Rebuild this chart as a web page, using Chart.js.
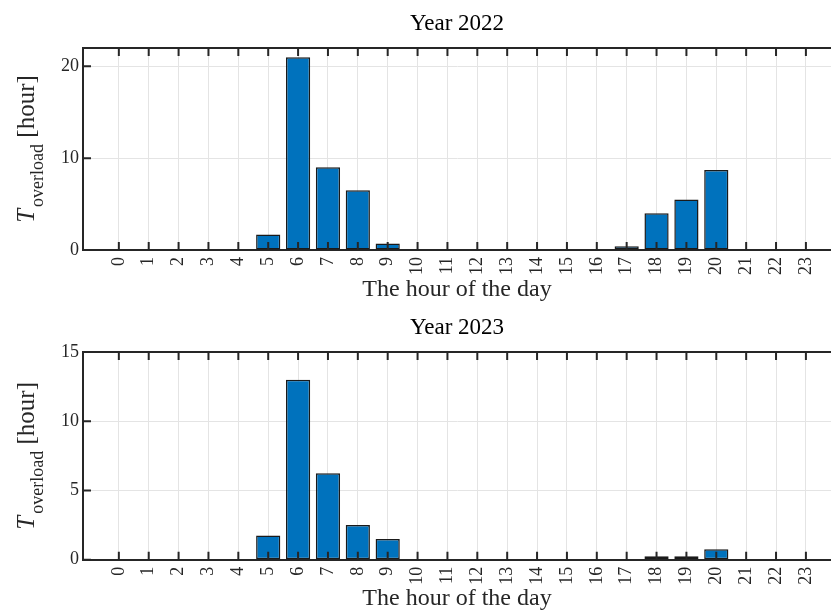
<!DOCTYPE html>
<html>
<head>
<meta charset="utf-8">
<title>Overload hours</title>
<script src="https://cdn.jsdelivr.net/npm/chart.js@4.4.0/dist/chart.umd.min.js"></script>
<style>
  body { margin: 0; background: #fff; }
  .panel { width: 831px; height: 306px; position: relative; }
</style>
</head>
<body>
<div class="panel"><canvas id="chart2022"></canvas></div>
<div class="panel"><canvas id="chart2023"></canvas></div>
<script>
// Data
const hours = [0, 1, 2, 3, 4, 5, 6, 7, 8, 9, 10, 11, 12, 13, 14, 15, 16, 17, 18, 19, 20, 21, 22, 23];
const overload2022 = [0, 0, 0, 0, 0, 1.7, 21, 9, 6.5, 0.7, 0, 0, 0, 0, 0, 0, 0, 0.4, 4, 5.5, 8.7, 0, 0, 0];
const overload2023 = [0, 0, 0, 0, 0, 1.75, 13, 6.25, 2.5, 1.5, 0, 0, 0, 0, 0, 0, 0, 0, 0.25, 0.25, 0.75, 0, 0, 0];
const yTicks2022 = [0, 10, 20];
const yTicks2023 = [0, 5, 10, 15];

const SERIF = "'Liberation Serif', 'Times New Roman', serif";
const AXIS_COLOR = "#262626";
const GRID_COLOR = "#e4e4e4";

// MATLAB style box: top edge + inward ticks, and the y label with subscript
const matlabAxes = {
    id: "matlabAxes",
    afterDatasetsDraw(chart) {
        const { ctx, chartArea: a, scales: { x, y } } = chart;
        ctx.save();
        ctx.strokeStyle = AXIS_COLOR;
        ctx.lineWidth = 2;
        ctx.beginPath();
        ctx.moveTo(a.left, a.top);
        ctx.lineTo(a.right, a.top);
        x.ticks.forEach(t => {
            const px = x.getPixelForValue(t.value);
            ctx.moveTo(px, a.bottom);
            ctx.lineTo(px, a.bottom - 8);
            ctx.moveTo(px, a.top);
            ctx.lineTo(px, a.top + 8);
        });
        y.ticks.forEach(t => {
            const py = y.getPixelForValue(t.value);
            ctx.moveTo(a.left, py);
            ctx.lineTo(a.left + 8, py);
        });
        ctx.stroke();
        ctx.restore();
    },
    afterDraw(chart) {
        const { ctx, chartArea: a } = chart;
        const mainFont = `25px ${SERIF}`;
        const italicFont = `italic 25px ${SERIF}`;
        const subFont = `18px ${SERIF}`;
        ctx.save();
        ctx.fillStyle = AXIS_COLOR;
        ctx.textBaseline = "alphabetic";
        ctx.font = italicFont;
        const wT = ctx.measureText("T").width;
        ctx.font = subFont;
        const wSub = ctx.measureText("overload").width;
        ctx.font = mainFont;
        const wRest = ctx.measureText(" [hour]").width;
        const total = wT + 2 + wSub + wRest;
        ctx.translate(34, (a.top + a.bottom) / 2);
        ctx.rotate(-Math.PI / 2);
        let cx = -total / 2;
        ctx.font = italicFont;
        ctx.fillText("T", cx, 0);
        cx += wT + 2;
        ctx.font = subFont;
        ctx.fillText("overload", cx, 9);
        cx += wSub;
        ctx.font = mainFont;
        ctx.fillText(" [hour]", cx, 0);
        ctx.restore();
    }
};

function makeChart(id, title, values, yMax, yTicks, geo) {
    const ctx = document.getElementById(id).getContext("2d");
    return new Chart(ctx, {
        type: "bar",
        data: {
            datasets: [
                {
                    data: hours.map((h, i) => ({ x: h, y: values[i] })),
                    backgroundColor: "#0072bd",
                    borderColor: "#1a1a1a",
                    borderWidth: 1.5,
                    borderSkipped: false,
                    barPercentage: 0.81,
                    categoryPercentage: 1
                }
            ]
        },
        options: {
            responsive: true,
            maintainAspectRatio: false,
            animation: false,
            layout: { padding: 0 },
            plugins: {
                legend: { display: false },
                tooltip: { enabled: false },
                title: {
                    display: true,
                    text: title,
                    fullSize: false,
                    color: "#000",
                    font: { family: SERIF, size: 23, weight: "normal" },
                    padding: { top: geo.titleTop, bottom: geo.titleBottom }
                }
            },
            scales: {
                x: {
                    type: "linear",
                    offset: false,
                    min: -1.2,
                    max: 23.84,
                    afterBuildTicks: s => { s.ticks = hours.map(v => ({ value: v })); },
                    afterFit: s => {
                        s.height = geo.axisHeight;
                        s.paddingLeft = 0;
                        s.paddingRight = 0;
                    },
                    ticks: {
                        autoSkip: false,
                        minRotation: 90,
                        maxRotation: 90,
                        padding: 7,
                        color: AXIS_COLOR,
                        font: { family: SERIF, size: 18 }
                    },
                    grid: { color: GRID_COLOR, drawTicks: false, offset: false },
                    border: { color: AXIS_COLOR, width: 2 },
                    title: {
                        display: true,
                        text: "The hour of the day",
                        color: AXIS_COLOR,
                        font: { family: SERIF, size: 24, lineHeight: 1 },
                        padding: { top: 0, bottom: geo.xTitleBottom }
                    }
                },
                y: {
                    min: 0,
                    max: yMax,
                    afterBuildTicks: s => { s.ticks = yTicks.map(v => ({ value: v })); },
                    afterFit: s => { s.width = 83; },
                    ticks: {
                        padding: 4,
                        color: AXIS_COLOR,
                        font: { family: SERIF, size: 18 }
                    },
                    grid: { color: GRID_COLOR, drawTicks: false },
                    border: { color: AXIS_COLOR, width: 2 }
                }
            }
        },
        plugins: [matlabAxes]
    });
}

makeChart("chart2022", "Year 2022", overload2022, 22, yTicks2022,
    { titleTop: 9.7, titleBottom: 10.7, axisHeight: 56, xTitleBottom: 4 });

makeChart("chart2023", "Year 2023", overload2023, 15, yTicks2023,
    { titleTop: 8.2, titleBottom: 10.2, axisHeight: 52.3, xTitleBottom: 1.4 });
</script>
</body>
</html>
